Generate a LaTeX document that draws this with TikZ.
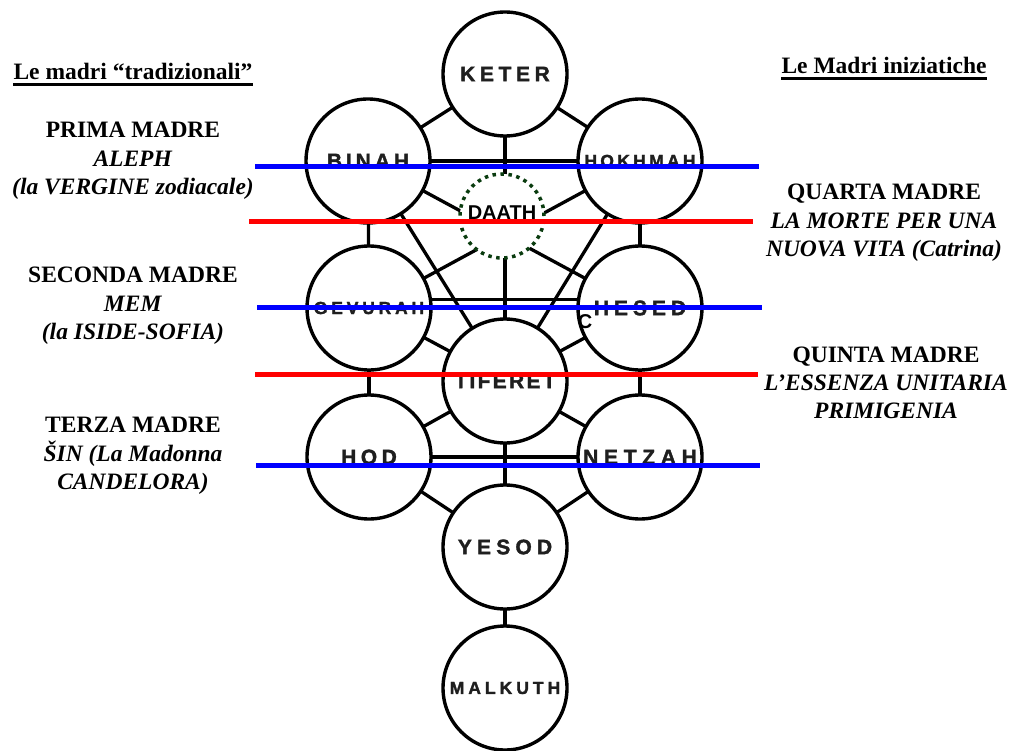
\documentclass[tikz,border=0pt]{standalone}
\usepackage{fontspec}
\setmainfont{Liberation Serif}
\newfontfamily\sephfont[FakeBold=1.6]{Liberation Sans Bold}
\newfontfamily\markfont{Liberation Sans Bold}
\usetikzlibrary{backgrounds}

% letter-spaced label: \spread[gap]{TEXT}
\ExplSyntaxOn
\NewDocumentCommand\spread{O{0.3em}m}{
  \tl_map_inline:nn {#2} { ##1 \kern #1 } \kern -#1
}
\ExplSyntaxOff

\definecolor{daathgreen}{RGB}{10,60,15}
\definecolor{bandblue}{RGB}{0,0,255}
\definecolor{bandred}{RGB}{255,0,0}

\tikzset{
  seph/.style={circle, draw=black, line width=3.4pt, fill=white,
    minimum size=124pt, inner sep=0pt, outer sep=0pt, text=black!88,
    font=\sephfont\fontsize{21}{21}\selectfont},
  sephsm/.style={seph, font=\sephfont\fontsize{17.5}{17.5}\selectfont},
  link/.style={line width=3.3pt, draw=black},
  madre/.style={align=center, inner sep=0pt, text=black,
    font=\bfseries\fontsize{23.5}{28.3}\selectfont},
  heading/.style={inner sep=0pt, text=black,
    font=\bfseries\fontsize{23.5}{28}\selectfont},
  band/.style={line width=5pt},
}

\begin{document}
\begin{tikzpicture}[x=1pt,y=-1pt]
\useasboundingbox (0,0) rectangle (1016,751);

% the sephirot
\node[seph]   (keter)  at (505,74)  {\spread[4.6pt]{KETER}};
\node[seph]   (binah)  at (368,161) {\spread[3.9pt]{BINAH}};
\node[sephsm] (hokh)   at (640,161) {\spread[3.3pt]{HOKHMAH}};
\node[sephsm] (gev)    at (369,308) {\spread[3.8pt]{GEVURAH}};
\node[seph]   (chesed) at (640,308) {\raisebox{-3pt}{\spread[5pt]{HESED}}};
\node[seph]   (tif)    at (505,381) {\spread[2.3pt]{TIFERET}};
\node[seph]   (hod)    at (369,457) {\spread[4.5pt]{HOD}};
\node[seph]   (netz)   at (640,457) {\spread[5.7pt]{NETZAH}};
\node[seph]   (yesod)  at (505,547) {\spread[5.2pt]{YESOD}};
\node[sephsm] (malk)   at (505,688) {\spread[4pt]{MALKUTH}};

% the hidden sephirah
\node[circle, draw=daathgreen, line width=3.5pt, dash pattern=on 3.5pt off 4.5pt,
  fill=white, minimum size=84pt, inner sep=0pt, text=black,
  font=\markfont\fontsize{20}{20}\selectfont]
  (daath) at (502,216) {\raisebox{6pt}{DAATH}};

\node[text=black, inner sep=0pt, font=\markfont\fontsize{20}{20}\selectfont]
  (cmark) at (585,322) {C};

% the paths
\begin{scope}[on background layer]
  \draw[link] (keter) -- (binah);
  \draw[link] (keter) -- (hokh);
  \draw[link] (keter) -- (tif);
  \draw[link] (binah) -- (hokh);
  \draw[link] (binah) -- (gev);
  \draw[link] (hokh) -- (chesed);
  \draw[link] (binah) -- (chesed);
  \draw[link] (hokh) -- (gev);
  \draw[link] (binah) -- (tif);
  \draw[link] (hokh) -- (tif);
  \draw[link] (gev.8) -- (chesed.172);
  \draw[link] (gev) -- (tif);
  \draw[link] (chesed) -- (tif);
  \draw[link] (gev) -- (hod);
  \draw[link] (chesed) -- (netz);
  \draw[link] (tif) -- (hod);
  \draw[link] (tif) -- (netz);
  \draw[link] (hod) -- (netz);
  \draw[link] (tif) -- (yesod);
  \draw[link] (hod) -- (yesod);
  \draw[link] (netz) -- (yesod);
  \draw[link] (yesod) -- (malk);
\end{scope}

% the dividing bands
\draw[band, bandblue] (255,167) -- (759,167);
\draw[band, bandred]  (249,222) -- (753,222);
\draw[band, bandblue] (257,307) -- (762,307);
\draw[band, bandred]  (255,374) -- (758,374);
\draw[band, bandblue] (256,465) -- (760,465);

% headings
\node[heading, anchor=base] (lefthead) at (133,80) {Le madri “tradizionali”};
\draw[line width=2.5pt] ([yshift=-4.5pt]lefthead.base west) -- ([yshift=-4.5pt]lefthead.base east);
\node[heading, anchor=base] (righthead) at (884,74) {Le Madri iniziatiche};
\draw[line width=2.5pt] ([yshift=-4.5pt]righthead.base west) -- ([yshift=-4.5pt]righthead.base east);

% the mothers
\node[madre] (prima) at (133,161)
  {PRIMA MADRE\\\textit{ALEPH}\\\textit{(la VERGINE zodiacale)}};
\node[madre] (seconda) at (133,306)
  {SECONDA MADRE\\\textit{MEM}\\\textit{(la ISIDE-SOFIA)}};
\node[madre] (terza) at (133,456)
  {TERZA MADRE\\\textit{ŠIN (La Madonna}\\\textit{CANDELORA)}};
\node[madre] (quarta) at (884,223)
  {QUARTA MADRE\\\textit{LA MORTE PER UNA}\\\textit{NUOVA VITA (Catrina)}};
\node[madre] (quinta) at (886,383)
  {QUINTA MADRE\\\textit{L’ESSENZA UNITARIA}\\\textit{PRIMIGENIA}};
\end{tikzpicture}
\end{document}
